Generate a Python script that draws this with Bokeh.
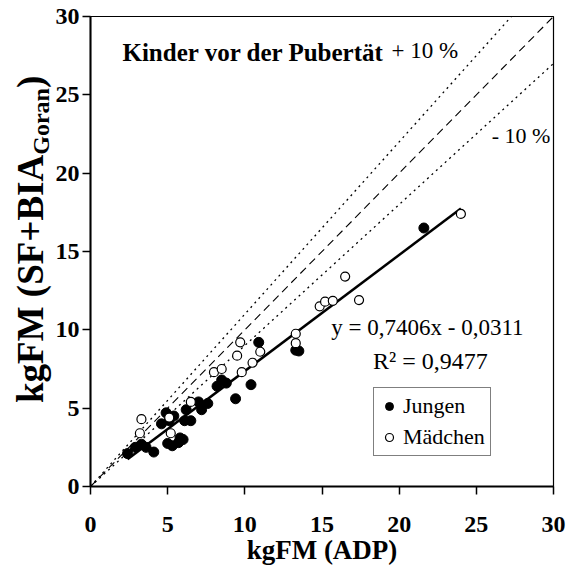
from bokeh.plotting import figure
from bokeh.models import Label, Legend, LegendItem, FixedTicker, Div
from bokeh.layouts import row
from bokeh.embed import file_html
from bokeh.resources import INLINE

# ---- data ----
boys_x = [2.4, 2.9, 3.3, 3.6, 4.1, 4.6, 4.9, 5.1, 5.0, 5.3, 5.7, 5.8, 5.4, 6.1,
          6.2, 6.5, 7.0, 7.2, 7.6, 8.2, 8.5, 8.8, 9.4, 10.4, 10.9, 13.3, 13.5, 21.6, 6.0]
boys_y = [2.1, 2.5, 2.7, 2.5, 2.2, 4.0, 4.7, 4.2, 2.75, 2.6, 2.8, 3.1, 4.5, 4.2,
          4.9, 4.2, 5.4, 4.9, 5.3, 6.4, 6.8, 6.6, 5.6, 6.5, 9.2, 8.7, 8.65, 16.5, 3.0]
girls_x = [3.3, 3.2, 5.2, 5.1, 6.5, 8.0, 8.5, 9.8, 9.5, 9.7, 10.5, 11.0, 13.3, 13.3,
           14.85, 15.2, 15.7, 16.5, 17.4, 24.0]
girls_y = [4.3, 3.4, 3.4, 4.4, 5.4, 7.3, 7.5, 7.3, 8.35, 9.2, 7.9, 8.6, 9.75, 9.15,
           11.5, 11.8, 11.85, 13.4, 11.9, 17.4]
slope = 0.7406
intercept = -0.0311
fit_x = [2.4, 24.0]
ref_x = [0, 30]
ticks = [0, 5, 10, 15, 20, 25, 30]

SERIF = "Liberation Serif"
DIV_W = 52

p = figure(frame_width=463, frame_height=470,
           min_border_left=89 - DIV_W, min_border_right=15, min_border_top=16, min_border_bottom=86,
           x_range=(0, 30), y_range=(0, 30),
           output_backend="svg", toolbar_location=None)

p.background_fill_color = "white"
p.border_fill_color = "white"
p.grid.visible = False
p.outline_line_color = "black"
p.outline_line_width = 1.2

for ax in (p.xaxis[0], p.yaxis[0]):
    ax.ticker = FixedTicker(ticks=ticks)
    ax.axis_line_color = "black"
    ax.axis_line_width = 2
    ax.major_tick_line_color = "black"
    ax.major_tick_line_width = 1.5
    ax.major_tick_out = 8
    ax.major_tick_in = 0
    ax.minor_tick_line_color = None
    ax.major_label_text_font = SERIF
    ax.major_label_text_font_style = "bold"
    ax.major_label_text_font_size = "24px"
    ax.major_label_text_color = "black"

p.xaxis.major_label_standoff = 22
p.yaxis.major_label_standoff = 3
p.xaxis.axis_label = "kgFM (ADP)"
p.xaxis.axis_label_text_font = SERIF
p.xaxis.axis_label_text_font_style = "bold"
p.xaxis.axis_label_text_font_size = "27px"
p.xaxis.axis_label_text_color = "black"
p.xaxis.axis_label_standoff = 0
p.yaxis.axis_label = None

# reference lines (identity and +/- 10 %)
p.line(ref_x, [v * 1.1 for v in ref_x], line_color="black", line_width=1.3, line_dash="2 4")
p.line(ref_x, [v * 0.9 for v in ref_x], line_color="black", line_width=1.3, line_dash="2 4")
p.line(ref_x, ref_x, line_color="black", line_width=1.1, line_dash="8 5")

# regression line
p.line(fit_x, [slope * v + intercept for v in fit_x], line_color="black", line_width=2.5)

r_boys = p.scatter(boys_x, boys_y, size=10, marker="circle", fill_color="black", line_color="black")
r_girls = p.scatter(girls_x, girls_y, size=9, marker="circle", fill_color="white",
                    line_color="black", line_width=1.2)

legend = Legend(items=[LegendItem(label="Jungen", renderers=[r_boys]),
                       LegendItem(label="Mädchen", renderers=[r_girls])],
                location=(283, 30))
legend.label_text_font = SERIF
legend.label_text_font_size = "22px"
legend.label_text_color = "black"
legend.border_line_color = "black"
legend.border_line_width = 1
legend.background_fill_alpha = 1
legend.glyph_width = 20
legend.glyph_height = 24
legend.label_height = 24
legend.spacing = 5
legend.padding = 5
legend.margin = 0
legend.label_standoff = 4
p.add_layout(legend, "center")

def lab(x, y, text, size="23px", style="normal", align="left"):
    p.add_layout(Label(x=x, y=y, text=text, text_font=SERIF, text_font_size=size,
                       text_font_style=style, text_color="black", text_align=align,
                       text_baseline="middle"))

lab(2.07, 27.7, "Kinder vor der Pubertät", size="25px", style="bold")
lab(19.5, 27.85, "+ 10 %", size="23px")
lab(29.8, 22.4, "- 10 %", size="22px", align="right")
lab(15.6, 10.15, "y = 0,7406x - 0,0311", size="23px")
lab(18.3, 8.0, "R² = 0,9477", size="24px")

# rotated y-axis title with subscript, as real text
ylabel_html = (
    '<div style="position:absolute; left:10px; top:403px; width:360px; '
    'transform-origin:0 0; transform:rotate(-90deg); white-space:nowrap; '
    "font-family:'Liberation Serif'; font-weight:bold; font-size:37px; "
    'line-height:41px; color:black;">'
    'kgFM (SF+BIA<span style="font-size:24px; position:relative; top:6px;">Goran</span>)'
    '</div>'
)
ydiv = Div(text=ylabel_html, width=DIV_W, height=572, margin=0,
           styles={"position": "relative", "overflow": "visible"})

layout = row(ydiv, p, spacing=0)
open("out.html", "w").write(file_html(layout, INLINE))
